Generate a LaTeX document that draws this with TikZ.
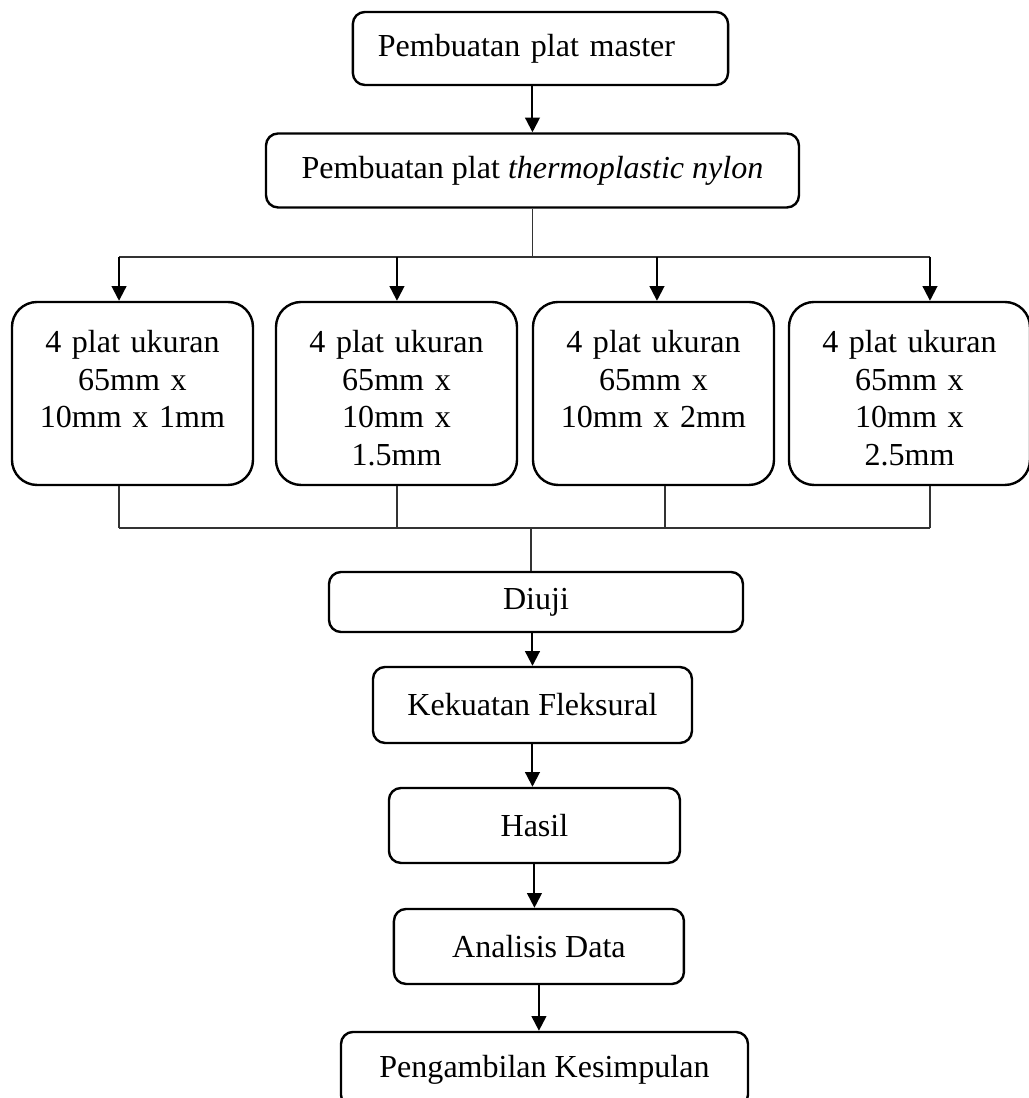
\documentclass[tikz,border=0pt]{standalone}
\usepackage{fontspec}
\setmainfont{Liberation Serif}
\usetikzlibrary{arrows.meta, positioning, calc}

\begin{document}
\begin{tikzpicture}[
    stepbox/.style={rectangle, draw=black, line width=0.9pt, rounded corners=4.5pt, align=center, font=\fontsize{12}{14}\selectfont, inner sep=0pt},
    sizebox/.style={rectangle, draw=black, line width=0.9pt, rounded corners=0.33cm, align=center, font=\fontsize{12}{14}\selectfont, minimum width=3.173cm, text width=2.9cm, inner xsep=0.1365cm, inner ysep=0pt, text height=0.671cm, text depth=1.738cm},
    arrow/.style={-{Triangle[length=5.5pt, width=5.5pt]}, line width=0.75pt, black},
    branch/.style={line width=0.5pt, black!80},
]
\useasboundingbox (0,0) rectangle (13.546,-14.455);

% Top steps
\node[stepbox, minimum width=4.937cm, minimum height=0.961cm, text width=4.28cm, align=left, inner xsep=0.33cm] (master) at (7.115,-0.638) {Pembuatan plat master};
\node[stepbox, minimum width=7.016cm, minimum height=0.974cm] (nylon) at (7.010,-2.244) {Pembuatan plat \textit{thermoplastic nylon}};
\draw[arrow] (master.south -| nylon.north) -- (nylon.north);

% Plate sizes
\node[sizebox] (sz1) at (1.744,-5.180) {4 plat ukuran\\65mm x\\10mm x 1mm};
\node[sizebox] (sz2) at (5.220,-5.180) {4 plat ukuran\\65mm x\\10mm x\\1.5mm};
\node[sizebox] (sz3) at (8.603,-5.180) {4 plat ukuran\\65mm x\\10mm x 2mm};
\node[sizebox, minimum width=3.120cm] (sz4) at (11.973,-5.180) {4 plat ukuran\\65mm x\\10mm x\\2.5mm};

% Split
\coordinate (s1) at (1.567,-3.383);
\coordinate (s2) at (5.226,-3.383);
\coordinate (s3) at (8.649,-3.383);
\coordinate (s4) at (12.243,-3.383);
\draw[branch] (nylon.south) -- (nylon.south |- s1);
\draw[branch] (s1) -- (s4);
\draw[arrow] (s1) -- (s1 |- sz1.north);
\draw[arrow] (s2) -- (s2 |- sz2.north);
\draw[arrow] (s3) -- (s3 |- sz3.north);
\draw[arrow] (s4) -- (s4 |- sz4.north);

% Join
\coordinate (j1) at (1.567,-6.951);
\coordinate (j2) at (5.226,-6.951);
\coordinate (j3) at (8.754,-6.951);
\coordinate (j4) at (12.243,-6.951);
\coordinate (jm) at (6.990,-6.951);
\draw[branch] (j1 |- sz1.south) -- (j1);
\draw[branch] (j2 |- sz2.south) -- (j2);
\draw[branch] (j3 |- sz3.south) -- (j3);
\draw[branch] (j4 |- sz4.south) -- (j4);
\draw[branch] (j1) -- (j4);

% Testing and analysis
\node[stepbox, minimum width=5.450cm, minimum height=0.790cm] (uji) at (7.056,-7.925) {Diuji};
\node[stepbox, minimum width=4.199cm, minimum height=1.0cm] (fleks) at (7.010,-9.281) {Kekuatan Fleksural};
\node[stepbox, minimum width=3.831cm, minimum height=0.987cm] (hasil) at (7.036,-10.867) {Hasil};
\node[stepbox, minimum width=3.818cm, minimum height=0.987cm] (analisis) at (7.095,-12.460) {Analisis Data};
\node[stepbox, minimum width=5.358cm, minimum height=0.987cm] (simpul) at (7.168,-14.079) {Pengambilan Kesimpulan};

\draw[branch] (jm) -- (jm |- uji.north);
\draw[arrow] (uji.south -| fleks.north) -- (fleks.north);
\draw[arrow] (fleks.south) -- (fleks.south |- hasil.north);
\draw[arrow] (hasil.south) -- (hasil.south |- analisis.north);
\draw[arrow] (analisis.south) -- (analisis.south |- simpul.north);

\end{tikzpicture}
\end{document}
